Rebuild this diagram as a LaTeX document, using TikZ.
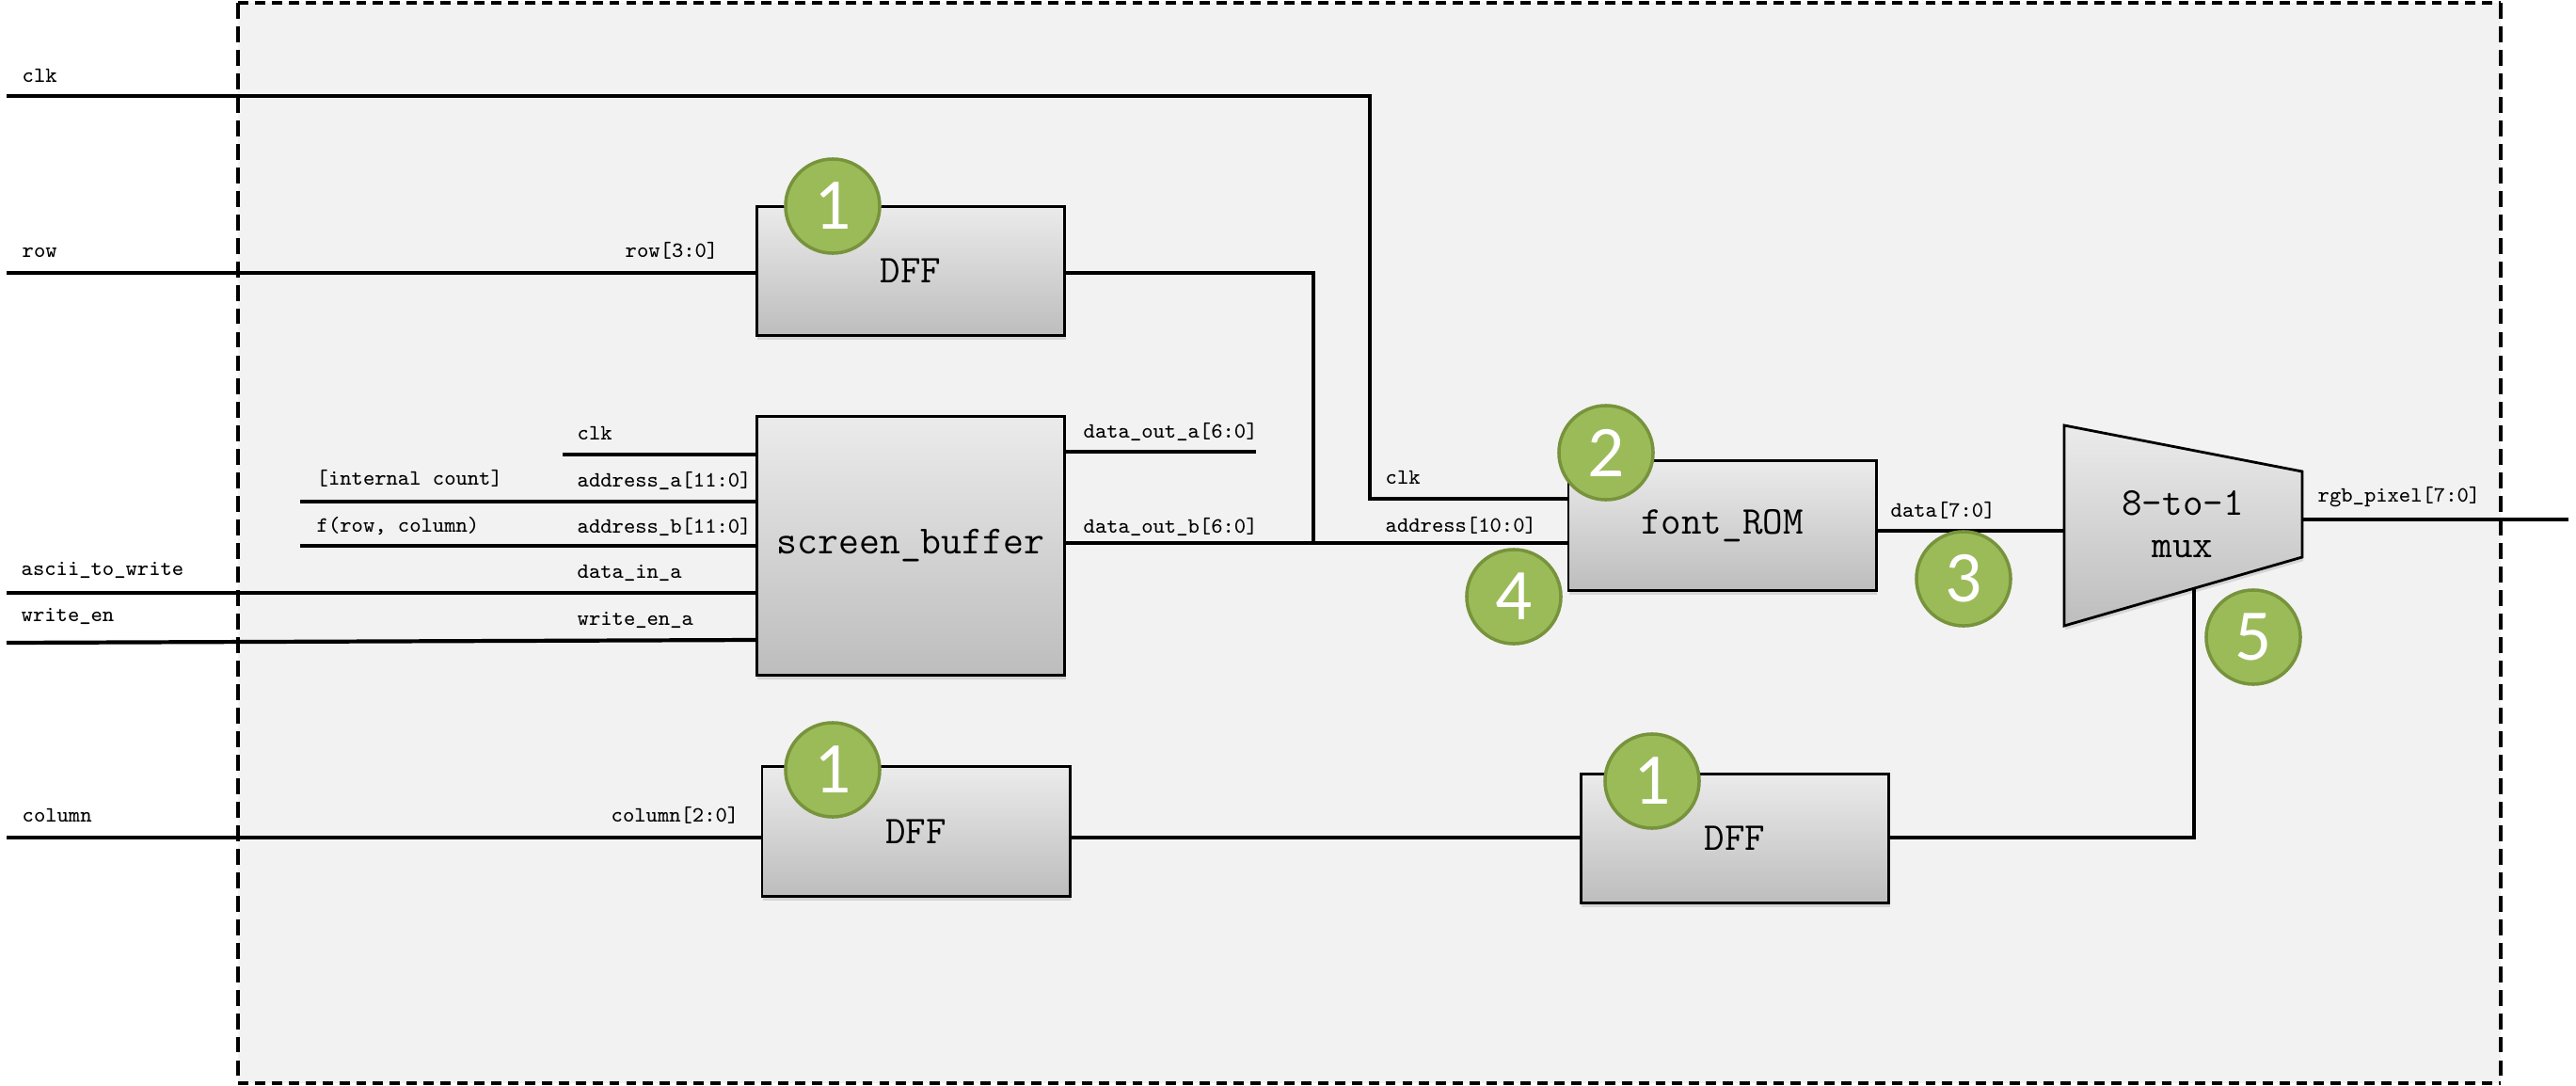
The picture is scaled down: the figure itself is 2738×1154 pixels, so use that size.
\documentclass[tikz,border=0pt]{standalone}
\usepackage{fontspec}
\newfontfamily\badgefont{Carlito}
\usetikzlibrary{shadows,calc}
\definecolor{bgfill}{HTML}{F2F2F2}
\definecolor{badgefill}{HTML}{9BBB59}
\definecolor{badgeline}{HTML}{77933C}
\definecolor{boxtop}{HTML}{EBEBEB}
\definecolor{boxbot}{HTML}{BDBDBD}
\tikzset{
  wire/.style={line width=1.2pt, line join=miter},
  lbl/.style={anchor=base west, inner sep=0pt, font=\ttfamily\fontsize{6.6}{8}\selectfont},
  bigtxt/.style={anchor=base, inner sep=0pt, font=\ttfamily\fontsize{11.9}{14}\selectfont},
  blk/.style={draw=black, line width=0.8pt, top color=boxtop, bottom color=boxbot,
    minimum width=3.27cm, minimum height=1.375cm, inner sep=0pt,
    font=\ttfamily\fontsize{11.9}{14}\selectfont,
    drop shadow={shadow xshift=0.3pt, shadow yshift=-1.2pt, opacity=0.25}},
  badge/.style={circle, draw=badgeline, line width=1pt, fill=badgefill,
    minimum size=1.0cm, inner sep=0pt, text=white,
    font=\badgefont\fontsize{22}{24}\selectfont},
  sidedash/.style={line width=1.1pt, dash pattern=on 4.8pt off 2.3pt},
  topdash/.style={line width=1.1pt, dash pattern=on 3.1pt off 2pt},
}
\begin{document}
\begin{tikzpicture}[x=0.01cm,y=-0.01cm]
\useasboundingbox (0,0) rectangle (2738,1154);
% frame
\coordinate (ftl) at (253,3);
\coordinate (ftr) at (2658,3);
\coordinate (fbl) at (253,1151);
\coordinate (fbr) at (2658,1151);
\fill[bgfill] (ftl) rectangle (fbr);
\draw[topdash] (ftl) -- (ftr);
\draw[topdash] (fbl) -- (fbr);
\draw[sidedash] (ftl) -- (fbl);
\draw[sidedash] (ftr) -- (fbr);

% blocks
\node[blk] (dffa) at (968,288) {DFF};
\node[blk, minimum height=2.75cm, font=\ttfamily\fontsize{12.1}{14}\selectfont] (sb) at (968,580) {screen\_buffer};
\node[blk] (rom) at (1830.5,558.5) {font\_ROM};
\node[blk] (dffb) at (973.5,883.5) {DFF};
\node[blk] (dffc) at (1844,891) {DFF};

% mux
\coordinate (mtl) at (2194,452);
\coordinate (mtr) at (2447,501);
\coordinate (mbr) at (2447,592);
\coordinate (mbl) at (2194,665);
\draw[line width=0.8pt, top color=boxtop, bottom color=boxbot,
  drop shadow={shadow xshift=0.3pt, shadow yshift=-1.2pt, opacity=0.25}]
  (mtl) -- (mtr) -- (mbr) -- (mbl) -- cycle;
\node[bigtxt] (muxa) at (2320,547) {8-to-1};
\node[bigtxt] (muxb) at (2320,592) {mux};

% coordinates
\coordinate (clkin) at (7,102);
\coordinate (clkturn) at (1456,102);
\coordinate (romclk) at (1667,530);
\coordinate (rowin) at (7,290);
\coordinate (junc) at (1396,577);
\coordinate (douta) at (1335,480);
\coordinate (sbclk) at (598,483);
\coordinate (sbaa) at (319,533);
\coordinate (sbab) at (319,580);
\coordinate (sbdin) at (7,630);
\coordinate (sbwe) at (7,683);
\coordinate (sbwe2) at (805,680);
\coordinate (muxin) at (2194,564);
\coordinate (muxout) at (2730,552);
\coordinate (colin) at (7,890);
\coordinate (muxsel) at (2332,626);

% wires
\draw[wire] (clkin) -- (clkturn) |- (romclk);
\draw[wire] (rowin) -- (dffa.west |- rowin);
\draw[wire] (dffa.east |- rowin) -| (junc);
\draw[wire] (sb.east |- junc) -- (junc) -- (rom.west |- junc);
\draw[wire] (sb.east |- douta) -- (douta);
\draw[wire] (sbclk) -- (sb.west |- sbclk);
\draw[wire] (sbaa) -- (sb.west |- sbaa);
\draw[wire] (sbab) -- (sb.west |- sbab);
\draw[wire] (sbdin) -- (sb.west |- sbdin);
\draw[wire] (sbwe) -- (sbwe2);
\draw[wire] (rom.east |- muxin) -- (muxin);
\draw[wire] (mtr |- muxout) -- (muxout);
\draw[wire] (colin) -- (dffb.west |- colin);
\draw[wire] (dffb.east |- colin) -- (dffc.west |- colin);
\draw[wire] (dffc.east |- colin) -| (muxsel);

% labels
\node[lbl] (l1) at (23,87) {clk};
\node[lbl] (l2) at (23,273) {row};
\node[lbl] (l3) at (664,273) {row[3:0]};
\node[lbl] (l4) at (613,467) {clk};
\node[lbl] (l5) at (613,517) {address\_a[11:0]};
\node[lbl] (l6) at (613,566) {address\_b[11:0]};
\node[lbl] (l7) at (613,614) {data\_in\_a};
\node[lbl] (l8) at (613,664) {write\_en\_a};
\node[lbl] (l9) at (336,515) {[internal count]};
\node[lbl] (l10) at (336,565) {f(row, column)};
\node[lbl] (l11) at (22,611) {ascii\_to\_write};
\node[lbl] (l12) at (22,660) {write\_en};
\node[lbl] (l13) at (1151,465) {data\_out\_a[6:0]};
\node[lbl] (l14) at (1151,566) {data\_out\_b[6:0]};
\node[lbl] (l15) at (1472,514) {clk};
\node[lbl] (l16) at (1472,565) {address[10:0]};
\node[lbl] (l17) at (2009,549) {data[7:0]};
\node[lbl] (l18) at (2463,533) {rgb\_pixel[7:0]};
\node[lbl] (l19) at (23,873) {column};
\node[lbl] (l20) at (649,873) {column[2:0]};

% badges
\node[badge] (b1a) at (885,219) {1};
\node[badge] (b2) at (1707,481) {2};
\node[badge] (b4) at (1609,634) {4};
\node[badge] (b3) at (2087,615) {3};
\node[badge] (b5) at (2395,677) {5};
\node[badge] (b1b) at (885,818) {1};
\node[badge] (b1c) at (1756,830) {1};
\end{tikzpicture}
\end{document}
